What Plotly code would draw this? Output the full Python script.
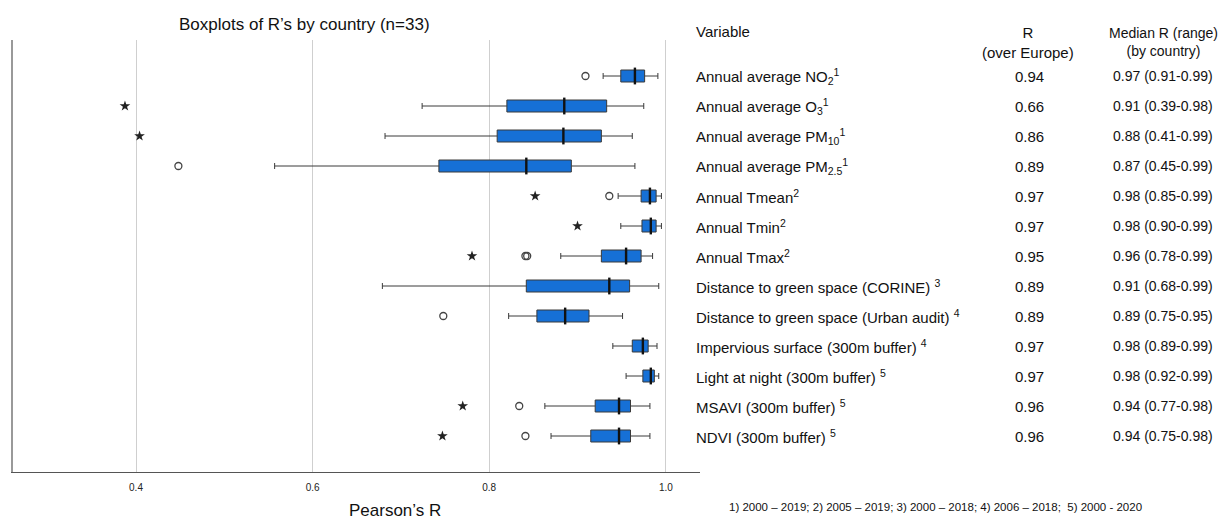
import plotly.graph_objects as go

# ---------------- data ----------------
variables = [
    "Annual average NO<sub>2</sub><sup>1</sup>",
    "Annual average O<sub>3</sub><sup>1</sup>",
    "Annual average PM<sub>10</sub><sup>1</sup>",
    "Annual average PM<sub>2.5</sub><sup>1</sup>",
    "Annual Tmean<sup>2</sup>",
    "Annual Tmin<sup>2</sup>",
    "Annual Tmax<sup>2</sup>",
    "Distance to green space (CORINE) <sup>3</sup>",
    "Distance to green space (Urban audit) <sup>4</sup>",
    "Impervious surface (300m buffer) <sup>4</sup>",
    "Light at night (300m buffer) <sup>5</sup>",
    "MSAVI (300m buffer) <sup>5</sup>",
    "NDVI (300m buffer) <sup>5</sup>",
]
r_europe = ["0.94", "0.66", "0.86", "0.89", "0.97", "0.97", "0.95",
            "0.89", "0.89", "0.97", "0.97", "0.96", "0.96"]
median_range = ["0.97 (0.91-0.99)", "0.91 (0.39-0.98)", "0.88 (0.41-0.99)",
                "0.87 (0.45-0.99)", "0.98 (0.85-0.99)", "0.98 (0.90-0.99)",
                "0.96 (0.78-0.99)", "0.91 (0.68-0.99)", "0.89 (0.75-0.95)",
                "0.98 (0.89-0.99)", "0.98 (0.92-0.99)", "0.94 (0.77-0.98)",
                "0.94 (0.75-0.98)"]

rows = list(range(13))
lower_fence = [0.929, 0.724, 0.682, 0.557, 0.946, 0.949, 0.881, 0.679, 0.822, 0.940, 0.955, 0.863, 0.870]
q1 = [0.949, 0.820, 0.809, 0.743, 0.972, 0.973, 0.927, 0.842, 0.854, 0.962, 0.974, 0.920, 0.915]
median = [0.965, 0.885, 0.884, 0.842, 0.982, 0.983, 0.955, 0.936, 0.886, 0.974, 0.983, 0.947, 0.947]
q3 = [0.976, 0.933, 0.927, 0.893, 0.989, 0.989, 0.972, 0.959, 0.913, 0.980, 0.987, 0.960, 0.960]
upper_fence = [0.991, 0.975, 0.962, 0.965, 0.995, 0.995, 0.985, 0.992, 0.951, 0.990, 0.992, 0.982, 0.982]

circle_rows = [0, 3, 4, 6, 6, 8, 11, 12]
circle_vals = [0.909, 0.448, 0.936, 0.841, 0.843, 0.748, 0.834, 0.841]
star_rows = [1, 2, 4, 5, 6, 11, 12]
star_vals = [0.3875, 0.404, 0.852, 0.900, 0.7805, 0.770, 0.747]

x_ticks = [0.4, 0.6, 0.8, 1.0]
x_ticklabels = ["0.4", "0.6", "0.8", "1.0"]

title_text = "Boxplots of R\u2019s by country (n=33)"
x_title = "Pearson\u2019s R"
header_var = "Variable"
header_r = "R<br>(over Europe)"
header_med = "Median R (range)<br>(by country)"
footnote = "1) 2000 \u2013 2019; 2) 2005 \u2013 2019; 3) 2000 \u2013 2018; 4) 2006 \u2013 2018;  5) 2000 - 2020"

# ---------------- figure ----------------
FONT = "Liberation Sans, Arial, sans-serif"
W, H = 1223, 519
ML, MR, MT, MB = 13, 523, 40, 47
PW, PH = W - ML - MR, H - MT - MB


def px_x(px):
    return (px - ML) / PW


def px_y(py):
    return (H - MB - py) / PH


fig = go.Figure()
fig.add_trace(go.Box(
    y=rows, q1=q1, median=median, q3=q3,
    lowerfence=lower_fence, upperfence=upper_fence,
    orientation="h", width=0.4, whiskerwidth=0.5,
    fillcolor="#1670d6", line=dict(color="#3a3a3a", width=1),
    boxpoints=False, hoverinfo="skip",
))
fig.add_trace(go.Scatter(
    x=median, y=rows, mode="markers", hoverinfo="skip",
    marker=dict(symbol="line-ns", size=12, line=dict(width=2.4, color="#111")),
))
fig.add_trace(go.Scatter(
    x=circle_vals, y=circle_rows, mode="markers", hoverinfo="skip",
    marker=dict(symbol="circle-open", size=7, color="#444", line=dict(width=1.3)),
))
fig.add_trace(go.Scatter(
    x=star_vals, y=star_rows, mode="markers", hoverinfo="skip",
    marker=dict(symbol="star", size=8, color="#222", line=dict(width=0)),
))

TXT = "#111"
ann = []
ann.append(dict(text=title_text, x=px_x(304), y=px_y(24), xref="paper", yref="paper",
                xanchor="center", yanchor="middle", showarrow=False,
                font=dict(family=FONT, size=17, color=TXT)))
ann.append(dict(text=x_title, x=px_x(395), y=px_y(510), xref="paper", yref="paper",
                xanchor="center", yanchor="middle", showarrow=False,
                font=dict(family=FONT, size=17, color=TXT)))
ann.append(dict(text=header_var, x=px_x(694), y=px_y(32), xref="paper", yref="paper",
                xanchor="left", yanchor="middle", showarrow=False,
                font=dict(family=FONT, size=15, color=TXT)))
ann.append(dict(text=header_r, x=px_x(1028), y=px_y(42), xref="paper", yref="paper",
                xanchor="center", yanchor="middle", showarrow=False, align="center",
                font=dict(family=FONT, size=15, color=TXT)))
ann.append(dict(text=header_med, x=px_x(1163), y=px_y(42), xref="paper", yref="paper",
                xanchor="center", yanchor="middle", showarrow=False, align="center",
                font=dict(family=FONT, size=14, color=TXT)))
for i in rows:
    ann.append(dict(text=variables[i], x=px_x(694), y=i, xref="paper", yref="y",
                    xanchor="left", yanchor="middle", showarrow=False,
                    font=dict(family=FONT, size=15, color=TXT)))
    ann.append(dict(text=r_europe[i], x=px_x(1029), y=i, xref="paper", yref="y",
                    xanchor="center", yanchor="middle", showarrow=False,
                    font=dict(family=FONT, size=15, color=TXT)))
    ann.append(dict(text=median_range[i], x=px_x(1163), y=i, xref="paper", yref="y",
                    xanchor="center", yanchor="middle", showarrow=False,
                    font=dict(family=FONT, size=14, color=TXT)))
ann.append(dict(text=footnote, x=px_x(935), y=px_y(507), xref="paper", yref="paper",
                xanchor="center", yanchor="middle", showarrow=False,
                font=dict(family=FONT, size=11.5, color=TXT)))

fig.update_layout(
    width=W, height=H,
    margin=dict(l=ML, r=MR, t=MT, b=MB, pad=0),
    paper_bgcolor="white", plot_bgcolor="white",
    showlegend=False,
    annotations=ann,
    font=dict(family=FONT, size=12, color=TXT),
)
fig.update_xaxes(
    range=[0.2607, 1.0387], tickvals=x_ticks, ticktext=x_ticklabels,
    showgrid=True, gridcolor="#cfcfcf", gridwidth=1, zeroline=False,
    showline=True, linecolor="#555", linewidth=1, ticks="",
    ticklabelstandoff=6,
    tickfont=dict(family=FONT, size=10, color="#222"),
)
fig.update_yaxes(
    range=[13.2, -1.2], showticklabels=False, showgrid=False, zeroline=False,
    showline=True, linecolor="#999", linewidth=1.5, ticks="",
)

fig.write_html("out.html", config={"displayModeBar": False})
